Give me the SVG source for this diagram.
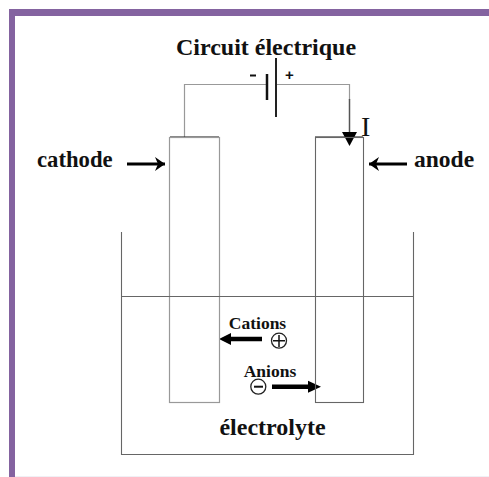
<svg xmlns="http://www.w3.org/2000/svg" width="489" height="477" viewBox="0 0 489 477">
<style>
.t{font-family:"Liberation Serif","Times New Roman",serif;font-weight:bold;fill:#111}
.w{fill:none;stroke:#999;stroke-width:1.200}
.d{fill:none;stroke:#666;stroke-width:1.100}
.k{fill:none;stroke:#000;stroke-width:3}
</style>
<defs>
<marker id="ah" markerUnits="userSpaceOnUse" markerWidth="11" markerHeight="14" refX="10" refY="7" orient="auto"><path d="M0 0L10 7L0 14L3 7Z" fill="#000"/></marker>
</defs>
<rect width="489" height="477" fill="#fff"/>
<g id="frame"><rect x="9" y="9" width="480" height="7" fill="#8463a0"/><rect x="9" y="9" width="6" height="468" fill="#8463a0"/><rect x="15" y="476" width="474" height="1" fill="#f0f0f5"/></g>
<g id="connectors">
<path class="w" d="M184.500 137V84.500H266M277 84.500H349.500V100"/>
<path d="M349.500 99V133" stroke="#555" stroke-width="1.500" fill="none"/>
<path d="M342 132H357L349.500 146Z" fill="#000"/>
<path class="k" d="M127 164H165" marker-end="url(#ah)"/>
<path class="k" d="M407 164H369" marker-end="url(#ah)"/>
<path d="M262 339H225" stroke="#000" stroke-width="4.500" fill="none"/><path d="M219 339L231 333V345Z" fill="#000"/>
<path d="M272 386.700H312" stroke="#000" stroke-width="4.500" fill="none"/><path d="M321 386.700L308 380.700V392.700Z" fill="#000"/>
</g>
<g id="battery"><path d="M267 74V100" stroke="#111" stroke-width="2.500"/><path d="M276 58V117" stroke="#222" stroke-width="2"/>
<path d="M250 75.500H256" stroke="#111" stroke-width="2"/><text x="289.500" y="80" font-size="15" font-weight="bold" font-family="'Liberation Sans',sans-serif" fill="#111" text-anchor="middle">+</text></g>
<g id="cathode"><path d="M170 137H219" stroke="#111" stroke-width="1"/><rect class="w" x="169.500" y="137.500" width="50" height="265"/><text class="t" x="37" y="167" font-size="22.700">cathode</text></g>
<g id="anode"><path d="M315 137H363" stroke="#111" stroke-width="1"/><rect class="d" x="315.500" y="137.500" width="48" height="265"/><text class="t" x="414" y="167" font-size="23.500">anode</text></g>
<g id="bath"><path class="d" d="M121.500 232V454.500H413.500V232"/><path class="d" d="M121 296.500H413"/></g>
<g id="labels">
<text class="t" x="266" y="54.500" font-size="24" text-anchor="middle">Circuit électrique</text>
<text x="361" y="136" font-size="28" font-family="'Liberation Serif',serif" fill="#111">I</text>
<text class="t" x="257.500" y="329" font-size="17.500" text-anchor="middle">Cations</text>
<text class="t" x="270" y="377" font-size="17.500" text-anchor="middle">Anions</text>
<text class="t" x="272.500" y="435" font-size="24" text-anchor="middle">électrolyte</text>
</g>
<g id="ions"><circle cx="279" cy="340.700" r="7.500" fill="none" stroke="#222" stroke-width="1.300"/><path d="M273 340.700H285M279 335V347" stroke="#111" stroke-width="1.500"/>
<circle cx="258.300" cy="386.700" r="7.500" fill="none" stroke="#222" stroke-width="1.300"/><path d="M254 386.700H263" stroke="#111" stroke-width="2"/></g>
</svg>
